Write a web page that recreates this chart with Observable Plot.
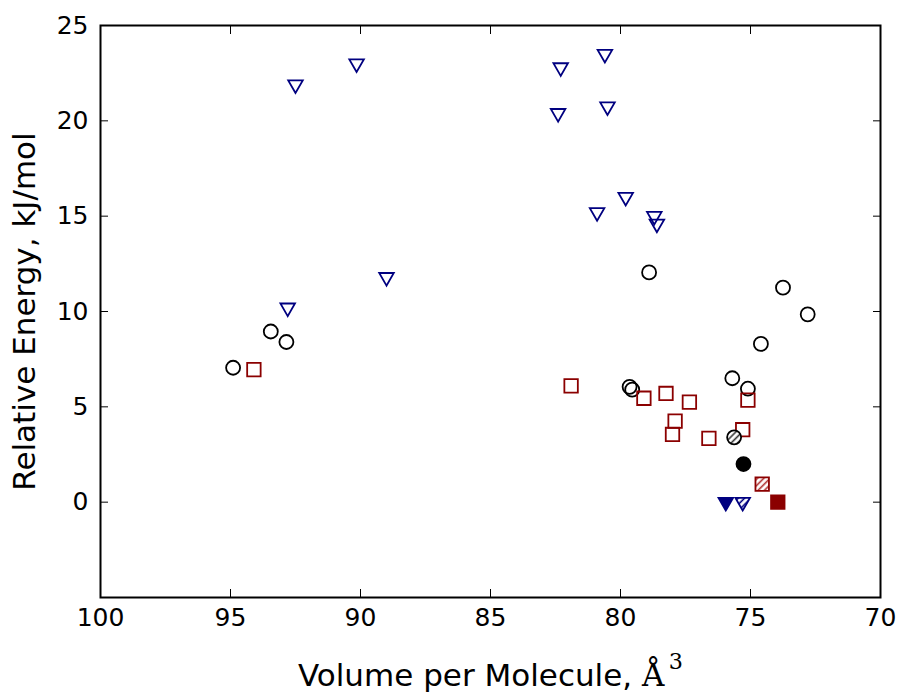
<!DOCTYPE html>
<html><head><meta charset="utf-8">
<script src="https://cdn.jsdelivr.net/npm/d3@7"></script>
<script src="https://cdn.jsdelivr.net/npm/@observablehq/plot@0.6"></script>
<style>body{margin:0;background:#fff}</style>
</head><body><div id="chart"></div>
<script>
// open markers
const triOpenX = [92.5, 90.15, 82.3, 80.6, 82.4, 80.5, 79.8, 80.9, 78.7, 78.6, 89.0, 92.8];
const triOpenY = [21.9, 23.0, 22.8, 23.5, 20.4, 20.75, 16.0, 15.2, 15.0, 14.6, 11.8, 10.2];
const circOpenX = [94.9, 93.45, 92.85, 78.9, 73.75, 72.8, 74.6, 75.7, 75.1, 79.65, 79.55];
const circOpenY = [7.05, 8.95, 8.4, 12.05, 11.25, 9.85, 8.3, 6.5, 5.95, 6.05, 5.9];
const sqOpenX = [94.1, 81.9, 79.1, 78.25, 77.35, 75.1, 77.9, 78.0, 76.6, 75.3];
const sqOpenY = [6.95, 6.1, 5.45, 5.7, 5.25, 5.35, 4.25, 3.55, 3.35, 3.8];
// hatched markers: circle, square, triangle
const hatchX = [75.63, 74.55, 75.3];
const hatchY = [3.4, 0.95, 0.0];
// filled markers: circle, square, triangle
const filledX = [75.27, 73.95, 75.95];
const filledY = [2.0, 0.0, 0.0];

const xTicks = [100, 95, 90, 85, 80, 75, 70];
const yTicks = [0, 5, 10, 15, 20, 25];
const xLabel = "Volume per Molecule, Å³";
const yLabel = "Relative Energy, kJ/mol";

const zip = (xs, ys) => xs.map((x, i) => ({x, y: ys[i]}));
const triOpen = zip(triOpenX, triOpenY);
const circOpen = zip(circOpenX, circOpenY);
const sqOpen = zip(sqOpenX, sqOpenY);
const hatched = zip(hatchX, hatchY);
const filled = zip(filledX, filledY);

const navy = "#000080", red = "#8b0000";
const sw = 1.8;

const chart = Plot.plot({
  width: 898, height: 694,
  marginLeft: 100, marginRight: 18, marginTop: 25, marginBottom: 97,
  style: {fontFamily: "DejaVu Sans", background: "white", color: "black"},
  x: {domain: [100, 70], ticks: xTicks, label: null},
  y: {domain: [-5, 25], ticks: yTicks, label: null},
  marks: [
    // inward ticks on all four sides
    Plot.axisX(xTicks, {anchor: "bottom", tickSize: 8, dy: -8, tickFormat: () => "", label: null, stroke: "black"}),
    Plot.axisX(xTicks, {anchor: "top", tickSize: 8, dy: 8, tickFormat: () => "", label: null, stroke: "black"}),
    Plot.axisY(yTicks, {anchor: "left", tickSize: 8, dx: 8, tickFormat: () => "", label: null, stroke: "black"}),
    Plot.axisY(yTicks, {anchor: "right", tickSize: 8, dx: -8, tickFormat: () => "", label: null, stroke: "black"}),
    // tick labels
    Plot.axisX(xTicks, {anchor: "bottom", tickSize: 0, tickPadding: 11, fontSize: 25, label: null, fill: "black"}),
    Plot.axisY(yTicks, {anchor: "left", tickSize: 0, tickPadding: 12, fontSize: 25, label: null, fill: "black"}),
    // axis titles
    Plot.text([xLabel], {frameAnchor: "bottom", dy: 79, fontSize: 31, textAnchor: "middle", lineAnchor: "middle", fill: "black"}),
    Plot.text([yLabel], {frameAnchor: "left", dx: -75, rotate: -90, fontSize: 31, textAnchor: "middle", lineAnchor: "middle", fill: "black"}),
    // data
    Plot.dot(triOpen, {x: "x", y: "y", symbol: "triangle", rotate: 180, r: 5.4, stroke: navy, strokeWidth: sw, fill: "none"}),
    Plot.dot(circOpen, {x: "x", y: "y", symbol: "circle", r: 7, stroke: "black", strokeWidth: sw, fill: "none"}),
    Plot.dot(sqOpen, {x: "x", y: "y", symbol: "square", r: 7.6, stroke: red, strokeWidth: sw, fill: "none"}),
    Plot.dot([hatched[0]], {x: "x", y: "y", symbol: "circle", r: 7, stroke: "black", strokeWidth: sw, fill: "url(#hatchK)"}),
    Plot.dot([hatched[1]], {x: "x", y: "y", symbol: "square", r: 7.6, stroke: red, strokeWidth: sw, fill: "url(#hatchR)"}),
    Plot.dot([hatched[2]], {x: "x", y: "y", symbol: "triangle", rotate: 180, r: 5.4, stroke: navy, strokeWidth: sw, fill: "url(#hatchB)"}),
    Plot.dot([filled[0]], {x: "x", y: "y", symbol: "circle", r: 7, stroke: "black", strokeWidth: sw, fill: "black"}),
    Plot.dot([filled[1]], {x: "x", y: "y", symbol: "square", r: 7.6, stroke: red, strokeWidth: sw, fill: red}),
    Plot.dot([filled[2]], {x: "x", y: "y", symbol: "triangle", rotate: 180, r: 5.4, stroke: navy, strokeWidth: sw, fill: navy}),
    Plot.frame({stroke: "black", strokeWidth: 2})
  ]
});

// hatch patterns
const svg = d3.select(chart);
const defs = svg.insert("defs", ":first-child");
[["hatchK", "#333"], ["hatchR", "#b03030"], ["hatchB", navy]].forEach(([id, c]) => {
  const p = defs.append("pattern").attr("id", id).attr("patternUnits", "userSpaceOnUse")
    .attr("width", 4.5).attr("height", 4.5).attr("patternTransform", "rotate(45)");
  p.append("rect").attr("width", 4.5).attr("height", 4.5).attr("fill", "white");
  p.append("line").attr("x1", 1.5).attr("x2", 1.5).attr("y1", 0).attr("y2", 4.5)
    .attr("stroke", c).attr("stroke-width", 1.6);
});

// style the Angstrom symbol and superscript in the x label
svg.selectAll("text").filter(function() { return this.textContent === xLabel; }).each(function() {
  const t = d3.select(this);
  t.text(null);
  t.append("tspan").text("Volume per Molecule, ");
  t.append("tspan").attr("font-family", "DejaVu Serif").text("Å");
  t.append("tspan").attr("font-family", "DejaVu Serif").attr("font-size", "0.72em").attr("dy", "-0.8em").attr("dx", "0.2em").text("3");
});

document.getElementById("chart").append(chart);
</script>
</body></html>
